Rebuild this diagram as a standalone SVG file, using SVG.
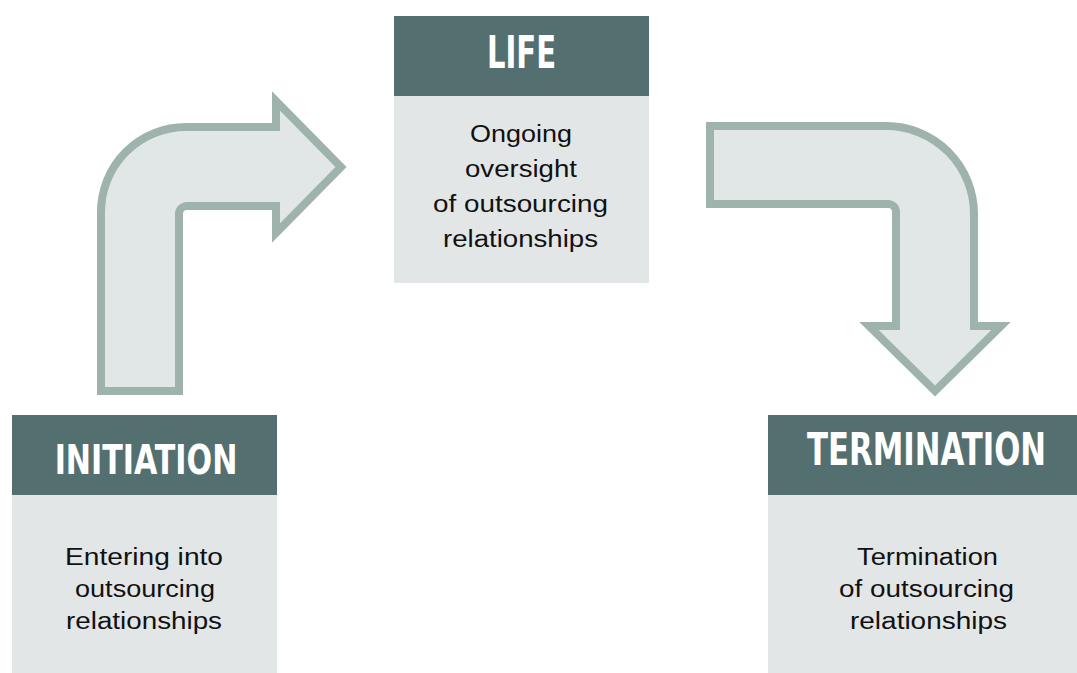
<svg xmlns="http://www.w3.org/2000/svg" width="1077" height="673" viewBox="0 0 1077 673">
<style>
.hdr{fill:#546f70}
.body{fill:#e3e6e7}
.arrow{fill:#e1e7e6;stroke:#9db3ab;stroke-width:8;stroke-linejoin:miter;stroke-miterlimit:10}
.title{font-family:"Liberation Sans Narrow","DejaVu Sans Condensed","Liberation Sans",sans-serif;font-weight:bold;fill:#ffffff;text-anchor:middle}
.txt{font-family:"Liberation Sans",Arial,sans-serif;font-size:23.5px;fill:#111111;text-anchor:middle}
</style>
<rect width="1077" height="673" fill="#ffffff"/>
<g id="connectors">
<path class="arrow" d="M101,391 L101,212 A85,85 0 0 1 186,127 L276,127 L276,101 L341,167 L276,233 L276,206 L187,206 A8,8 0 0 0 179,214 L179,391 Z"/>
<path class="arrow" d="M710,126 L886,126 A88,88 0 0 1 974,214 L974,326 L1001,326 L935,391 L869,326 L896,326 L896,212 A8,8 0 0 0 888,204 L710,204 Z"/>
</g>
<g id="initiation">
<rect class="hdr" x="12" y="415" width="265" height="80"/>
<rect class="body" x="12" y="495" width="265" height="178"/>
<text class="title" transform="translate(146,474) scale(0.87,1)" x="0" y="0" font-size="40" textLength="210" lengthAdjust="spacingAndGlyphs">INITIATION</text>
<text class="txt" x="144" y="565" textLength="158" lengthAdjust="spacingAndGlyphs">Entering into</text>
<text class="txt" x="145" y="597" textLength="140" lengthAdjust="spacingAndGlyphs">outsourcing</text>
<text class="txt" x="144" y="629" textLength="156" lengthAdjust="spacingAndGlyphs">relationships</text>
</g>
<g id="life">
<rect class="hdr" x="394" y="16" width="255" height="80"/>
<rect class="body" x="394" y="96" width="255" height="187"/>
<text class="title" transform="translate(521.5,68) scale(0.75,1)" x="0" y="0" font-size="45" textLength="92" lengthAdjust="spacingAndGlyphs">LIFE</text>
<text class="txt" x="521" y="142" textLength="102" lengthAdjust="spacingAndGlyphs">Ongoing</text>
<text class="txt" x="521" y="177" textLength="112" lengthAdjust="spacingAndGlyphs">oversight</text>
<text class="txt" x="520.5" y="212" textLength="175" lengthAdjust="spacingAndGlyphs">of outsourcing</text>
<text class="txt" x="520.5" y="247" textLength="155" lengthAdjust="spacingAndGlyphs">relationships</text>
</g>
<g id="termination">
<rect class="hdr" x="768" y="415" width="309" height="80"/>
<rect class="body" x="768" y="495" width="309" height="178"/>
<text class="title" transform="translate(926.5,465) scale(0.8,1)" x="0" y="0" font-size="45" textLength="299" lengthAdjust="spacingAndGlyphs">TERMINATION</text>
<text class="txt" x="927.5" y="565" textLength="141" lengthAdjust="spacingAndGlyphs">Termination</text>
<text class="txt" x="926.5" y="597" textLength="175" lengthAdjust="spacingAndGlyphs">of outsourcing</text>
<text class="txt" x="928.5" y="629" textLength="157" lengthAdjust="spacingAndGlyphs">relationships</text>
</g>
</svg>
